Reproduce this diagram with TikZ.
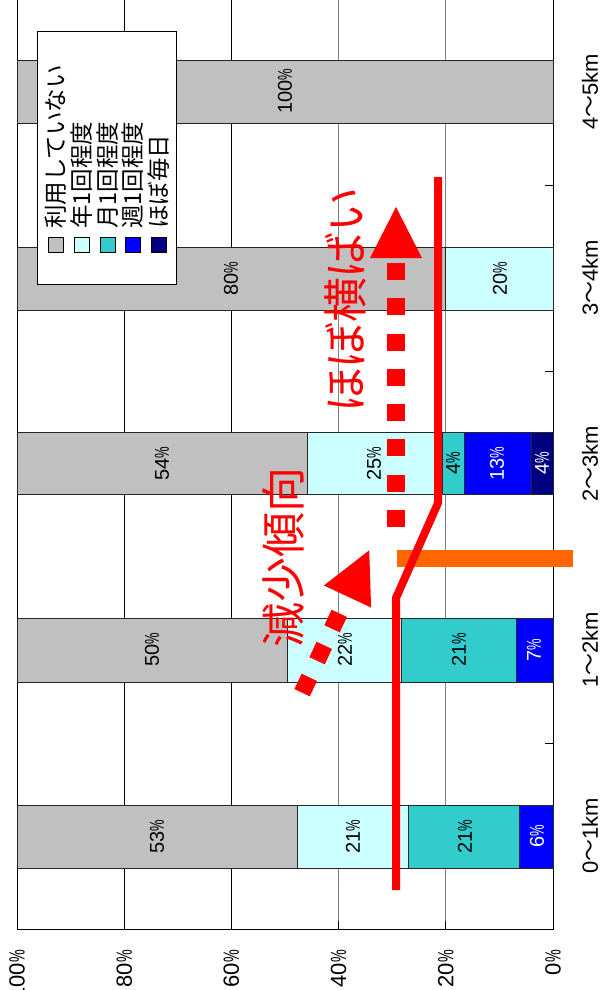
\documentclass[tikz,border=0pt]{standalone}
\usepackage{fontspec}
\usepackage{graphicx}
\setmainfont{Liberation Sans}
\newfontfamily\jp{Noto Sans CJK JP}
\definecolor{cgray}{HTML}{C0C0C0}
\definecolor{ccyan}{HTML}{CCFFFF}
\definecolor{cteal}{HTML}{33CCCC}
\definecolor{cblue}{HTML}{0000FF}
\definecolor{cnavy}{HTML}{000080}
\definecolor{cred}{HTML}{FF0000}
\definecolor{corange}{HTML}{FF6600}
\definecolor{grid}{HTML}{808080}
\newcommand\pc{\scalebox{0.65}[1]{\%}}
\newcommand\seg[5]{\draw[barbox,fill=#4] ({553-5.36*#2},#1-#5) rectangle ({553-5.36*#3},#1+#5);}
\tikzset{
  barbox/.style={draw=black!85,line width=0.9pt},
  vallab/.style={rotate=90,inner sep=0pt,font=\fontsize{20}{24}\selectfont},
  axlab/.style={rotate=90,inner sep=0pt,font=\fontsize{22}{26}\selectfont},
  leglab/.style={rotate=90,anchor=west,inner sep=0pt,font=\jp\fontsize{23.5}{26}\selectfont},
  legsq/.style={draw=black,line width=0.9pt},
  redtxt/.style={rotate=90,inner sep=0pt,text=cred,font=\jp\fontsize{45}{50}\selectfont},
}
\begin{document}
\begin{tikzpicture}[x=1pt,y=-1pt]
\useasboundingbox (0,0) rectangle (601,990);
\fill[white] (0,0) rectangle (601,990);
% gridlines
\draw[black,line width=1pt] (124.2,-2) -- (124.2,929) (231.4,-2) -- (231.4,929);
\draw[grid,line width=1pt] (338.6,-2) -- (338.6,929) (445.8,-2) -- (445.8,929);
\draw[black,line width=1pt] (124.2,921) -- (124.2,929) (231.4,921) -- (231.4,929) (338.6,921) -- (338.6,929) (445.8,921) -- (445.8,929);
% plot frame
\draw[black,line width=1pt] (17,-2) -- (17,929) -- (553,929) -- (553,-2);
\foreach \yy in {743,557,371,185} \draw[black,line width=1pt] (545,\yy) -- (553,\yy);
% bars 0-1km
\seg{836.5}{0}{6.2}{cblue}{31.5}
\seg{836.5}{6.2}{26.9}{cteal}{31.5}
\seg{836.5}{26.9}{47.6}{ccyan}{31.5}
\seg{836.5}{47.6}{100}{cgray}{31.5}
% bars 1-2km
\seg{650}{0}{6.9}{cblue}{32}
\seg{650}{6.9}{28.2}{cteal}{32}
\seg{650}{28.2}{49.6}{ccyan}{32}
\seg{650}{49.6}{100}{cgray}{32}
% bars 2-3km
\seg{463.5}{0}{4.1}{cnavy}{31}
\seg{463.5}{4.1}{16.6}{cblue}{31}
\seg{463.5}{16.6}{20.7}{cteal}{31}
\seg{463.5}{20.7}{45.9}{ccyan}{31}
\seg{463.5}{45.9}{100}{cgray}{31}
% bars 3-4km
\seg{278.5}{0}{20}{ccyan}{31.5}
\seg{278.5}{20}{100}{cgray}{31.5}
% bars 4-5km
\seg{91.5}{0}{100}{cgray}{31.5}
% value labels
\node[vallab] (a1) at (157,836.5) {53\pc};
\node[vallab] (a2) at (353,836.5) {21\pc};
\node[vallab] (a3) at (465,836.5) {21\pc};
\node[vallab,text=white] (a4) at (537,836.5) {6\pc};
\node[vallab] (b1) at (152,650) {50\pc};
\node[vallab] (b2) at (345,650) {22\pc};
\node[vallab] (b3) at (459,650) {21\pc};
\node[vallab,text=white] (b4) at (534,650) {7\pc};
\node[vallab] (c1) at (162,463.5) {54\pc};
\node[vallab] (c2) at (374,463.5) {25\pc};
\node[vallab] (c3) at (453,463.5) {4\pc};
\node[vallab,text=white] (c4) at (497,463.5) {13\pc};
\node[vallab,text=white] (c5) at (542,463.5) {4\pc};
\node[vallab] (d1) at (231,278.5) {80\pc};
\node[vallab] (d2) at (500,278.5) {20\pc};
\node[vallab] (e1) at (285,91.5) {100\pc};
% category labels
\node[axlab] (k0) at (590,836) {0{\jp ～}1km};
\node[axlab] (k1) at (590,650) {1{\jp ～}2km};
\node[axlab] (k2) at (590,464) {2{\jp ～}3km};
\node[axlab] (k3) at (590,278) {3{\jp ～}4km};
\node[axlab] (k4) at (590,92) {4{\jp ～}5km};
% value axis labels
\node[axlab,anchor=east] (v100) at (17,950) {100\pc};
\node[axlab,anchor=east] (v80) at (124.2,950) {80\pc};
\node[axlab,anchor=east] (v60) at (231.4,950) {60\pc};
\node[axlab,anchor=east] (v40) at (338.6,950) {40\pc};
\node[axlab,anchor=east] (v20) at (445.8,950) {20\pc};
\node[axlab,anchor=east] (v0) at (553,950) {0\pc};
% legend
\draw[black,line width=1pt,fill=white] (37,32) rectangle (176,284);
\draw[legsq,fill=cgray] (48,237) rectangle (63,252);
\draw[legsq,fill=ccyan] (74,237) rectangle (89,252);
\draw[legsq,fill=cteal] (100,237) rectangle (115,252);
\draw[legsq,fill=cblue] (125.5,237) rectangle (140.5,252);
\draw[legsq,fill=cnavy] (151,237) rectangle (166,252);
\node[leglab] (g1) at (56,229) {利用していない};
\node[leglab] (g2) at (81.5,229) {年1回程度};
\node[leglab] (g3) at (107.5,229) {月1回程度};
\node[leglab] (g4) at (133,229) {週1回程度};
\node[leglab] (g5) at (158.5,229) {ほぼ毎日};
% orange marker
\draw[corange,line width=17pt] (397,558.5) -- (573,558.5);
% red solid trend line
\coordinate (r0) at (396,890);
\coordinate (r1) at (396,598);
\coordinate (r2) at (438,503);
\coordinate (r3) at (438,177);
\draw[cred,line width=8pt,line join=miter] (r0) -- (r1) -- (r2) -- (r3);
% vertical dotted arrow
\coordinate (s0) at (396,527);
\coordinate (s1) at (396,263);
\draw[cred,line width=18pt,dash pattern=on 17pt off 18.3pt] (s0) -- (s1);
\fill[cred] (396,207) -- (370,258) -- (422,258) -- cycle;
% diagonal dotted arrow
\coordinate (t0) at (302.1,692.7);
\coordinate (t1) at (339.3,613.3);
\draw[cred,line width=17pt,dash pattern=on 17pt off 18.3pt] (t0) -- (t1);
\fill[cred] (369.2,550.3) -- (323.9,585.5) -- (371.1,607.5) -- cycle;
% red texts
\node[redtxt] (n1) at (283,557) {減少傾向};
\node[redtxt] (n2) at (345,300) {ほぼ横ばい};
\end{tikzpicture}
\end{document}
